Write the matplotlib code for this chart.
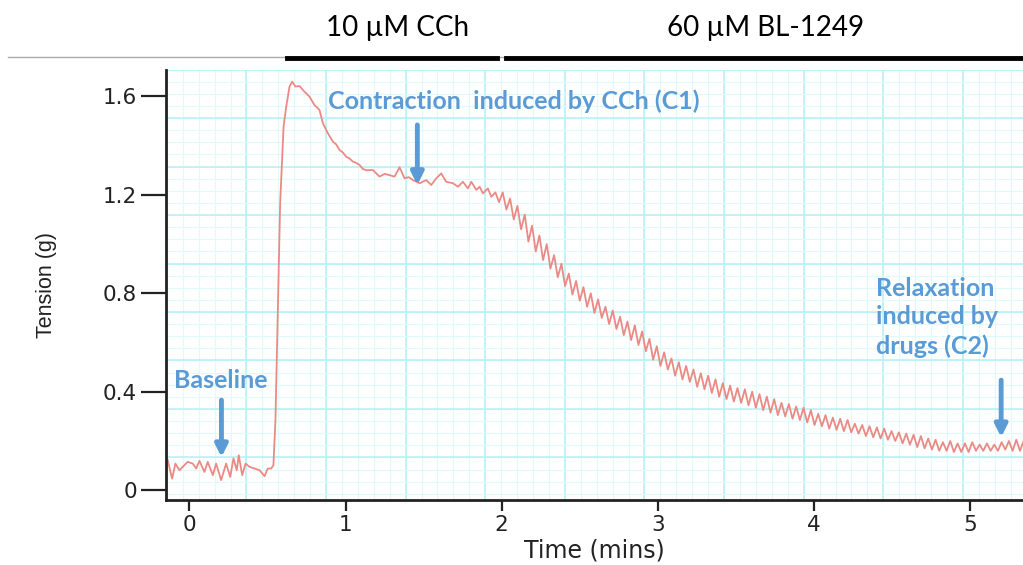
import numpy as np
import matplotlib
matplotlib.use("Agg")
import matplotlib.pyplot as plt
from matplotlib.lines import Line2D

# tension trace (time in mins, tension in g)
early_t = [-0.139, -0.111, -0.090, -0.064, -0.032, -0.011, 0.021, 0.043, 0.064, 0.096,
           0.117, 0.150, 0.171, 0.203, 0.235, 0.261, 0.282, 0.303, 0.316, 0.338,
           0.359, 0.385, 0.417, 0.449, 0.481, 0.502, 0.524, 0.538, 0.545, 0.551,
           0.565, 0.581, 0.603, 0.620, 0.641, 0.658, 0.679, 0.705, 0.737, 0.769,
           0.801, 0.833, 0.855, 0.887, 0.919, 0.940, 0.962, 0.983, 1.004, 1.025,
           1.047, 1.068, 1.090, 1.111, 1.133, 1.175, 1.218, 1.250, 1.282, 1.314,
           1.346, 1.378, 1.405, 1.432, 1.474, 1.517, 1.549, 1.581, 1.613, 1.645,
           1.688, 1.720, 1.752, 1.784, 1.806, 1.838, 1.859, 1.880, 1.912, 1.934]
early_g = [0.122, 0.047, 0.108, 0.081, 0.102, 0.115, 0.108, 0.088, 0.119, 0.074,
           0.115, 0.061, 0.108, 0.041, 0.108, 0.054, 0.129, 0.081, 0.142, 0.061,
           0.108, 0.095, 0.088, 0.081, 0.057, 0.088, 0.088, 0.102, 0.203, 0.285,
           0.700, 1.165, 1.477, 1.558, 1.640, 1.660, 1.640, 1.642, 1.619, 1.599,
           1.565, 1.545, 1.491, 1.450, 1.416, 1.405, 1.382, 1.372, 1.355, 1.348,
           1.335, 1.330, 1.321, 1.305, 1.300, 1.301, 1.274, 1.285, 1.280, 1.274,
           1.312, 1.267, 1.272, 1.260, 1.247, 1.260, 1.240, 1.267, 1.287, 1.253,
           1.247, 1.233, 1.253, 1.226, 1.253, 1.220, 1.233, 1.206, 1.226, 1.192]

# relaxation phase: peaks / troughs of the oscillation, sampled every half cycle
osc_start = 1.960
osc_step = 0.0235
osc_g = [1.21, 1.17, 1.21, 1.14, 1.185, 1.10, 1.155, 1.06, 1.12, 1.01,
         1.075, 0.97, 1.035, 0.935, 1.00, 0.90, 0.955, 0.865, 0.92, 0.83,
         0.88, 0.795, 0.85, 0.77, 0.825, 0.745, 0.80, 0.72, 0.775, 0.70,
         0.745, 0.675, 0.73, 0.655, 0.705, 0.63, 0.685, 0.61, 0.67, 0.59,
         0.645, 0.565, 0.615, 0.53, 0.585, 0.505, 0.56, 0.49, 0.535, 0.465,
         0.52, 0.45, 0.505, 0.44, 0.49, 0.42, 0.475, 0.41, 0.465, 0.395,
         0.45, 0.38, 0.435, 0.37, 0.425, 0.36, 0.415, 0.355, 0.41, 0.345,
         0.40, 0.335, 0.39, 0.325, 0.38, 0.315, 0.37, 0.305, 0.355, 0.30,
         0.35, 0.29, 0.34, 0.285, 0.335, 0.275, 0.325, 0.265, 0.31, 0.26,
         0.305, 0.25, 0.295, 0.245, 0.29, 0.24, 0.285, 0.235, 0.27, 0.23,
         0.265, 0.22, 0.26, 0.215, 0.255, 0.21, 0.25, 0.205, 0.24, 0.20,
         0.235, 0.19, 0.23, 0.185, 0.225, 0.175, 0.22, 0.17, 0.21, 0.165,
         0.205, 0.16, 0.195, 0.16, 0.20, 0.155, 0.19, 0.155, 0.19, 0.155,
         0.195, 0.16, 0.185, 0.16, 0.19, 0.16, 0.185, 0.16, 0.195, 0.165,
         0.20, 0.16, 0.205, 0.16, 0.20]

x_ticks = [0, 1, 2, 3, 4, 5]
y_ticks = [0, 0.4, 0.8, 1.2, 1.6]
y_labels = ["0", "0.4", "0.8", "1.2", "1.6"]

osc_t = osc_start + osc_step * np.arange(len(osc_g))
t = np.concatenate([early_t, osc_t])
g = np.concatenate([early_g, osc_g])

blue = "#5B9BD5"
axis_col = "#222222"

fig = plt.figure(figsize=(10.23, 5.65), dpi=100)
ax = fig.add_axes([0.1623, 0.115, 0.8377, 0.761])
ax.set_xlim(-0.15, 5.34)
ax.set_ylim(-0.04, 1.707)

# chart-paper grid (offset from the ticks)
for gx in np.arange(0.365 - 0.51 * 2, 5.5, 0.102):
    ax.axvline(gx, color="#e0f9fb", lw=0.8, zorder=0)
for gx in np.arange(0.365 - 0.51, 5.5, 0.51):
    ax.axvline(gx, color="#b4f0f5", lw=1.1, zorder=0)
for gy in np.arange(1.512 + 0.197, -0.1, -0.04925):
    ax.axhline(gy, color="#e0f9fb", lw=0.8, zorder=0)
for gy in np.arange(1.512 + 0.197, -0.1, -0.197):
    ax.axhline(gy, color="#b4f0f5", lw=1.1, zorder=0)

ax.plot(t, g, color="#eb8a85", lw=1.3, solid_joinstyle="round", zorder=2)

for s in ["top", "right"]:
    ax.spines[s].set_visible(False)
for s in ["left", "bottom"]:
    ax.spines[s].set_linewidth(2)
    ax.spines[s].set_color(axis_col)

ax.set_xticks(x_ticks)
ax.set_yticks(y_ticks)
ax.set_yticklabels(y_labels)
ax.tick_params(axis="y", length=18, width=1.6, pad=3, labelsize=15.5, colors=axis_col)
ax.tick_params(axis="x", length=8, width=1.6, pad=3, labelsize=15.5, colors=axis_col)
ax.set_xlabel("Time (mins)", fontsize=17, color=axis_col, labelpad=2)
ax.set_ylabel("Tension (g)", fontsize=15.5, color=axis_col, labelpad=33,
              family=["Liberation Sans", "DejaVu Sans"])

# annotations
ann = dict(color=blue, fontsize=18, fontweight="bold", family=["Lato", "DejaVu Sans"])
ax.text(0.885, 1.58, "Contraction  induced by CCh (C1)", va="center", ha="left", **ann)
ax.text(-0.096, 0.447, "Baseline", va="center", ha="left", **ann)
ax.text(4.40, 0.703, "Relaxation\ninduced by\ndrugs (C2)", va="center", ha="left",
        linespacing=1.3, **ann)
arr = dict(arrowstyle="-|>", color=blue, lw=3.5, mutation_scale=18, shrinkA=0, shrinkB=0)
ax.annotate("", xy=(1.46, 1.24), xytext=(1.46, 1.484), arrowprops=arr)
ax.annotate("", xy=(0.205, 0.134), xytext=(0.205, 0.366), arrowprops=arr)
ax.annotate("", xy=(5.20, 0.215), xytext=(5.20, 0.447), arrowprops=arr)

# drug application bars above the trace
fig.add_artist(Line2D([0.008, 1.0], [0.899, 0.899], color="#aaaaaa", lw=1))
fig.add_artist(Line2D([0.2805, 0.486], [0.897, 0.897], color="black", lw=3.5))
fig.add_artist(Line2D([0.4946, 1.0], [0.897, 0.897], color="black", lw=3.5))
fig.text(0.389, 0.950, "10 µM CCh", ha="center", va="center", fontsize=20,
         family=["Lato", "DejaVu Sans"])
fig.text(0.748, 0.950, "60 µM BL-1249", ha="center", va="center", fontsize=20,
         family=["Lato", "DejaVu Sans"])

fig.savefig("out.png", dpi=100)
